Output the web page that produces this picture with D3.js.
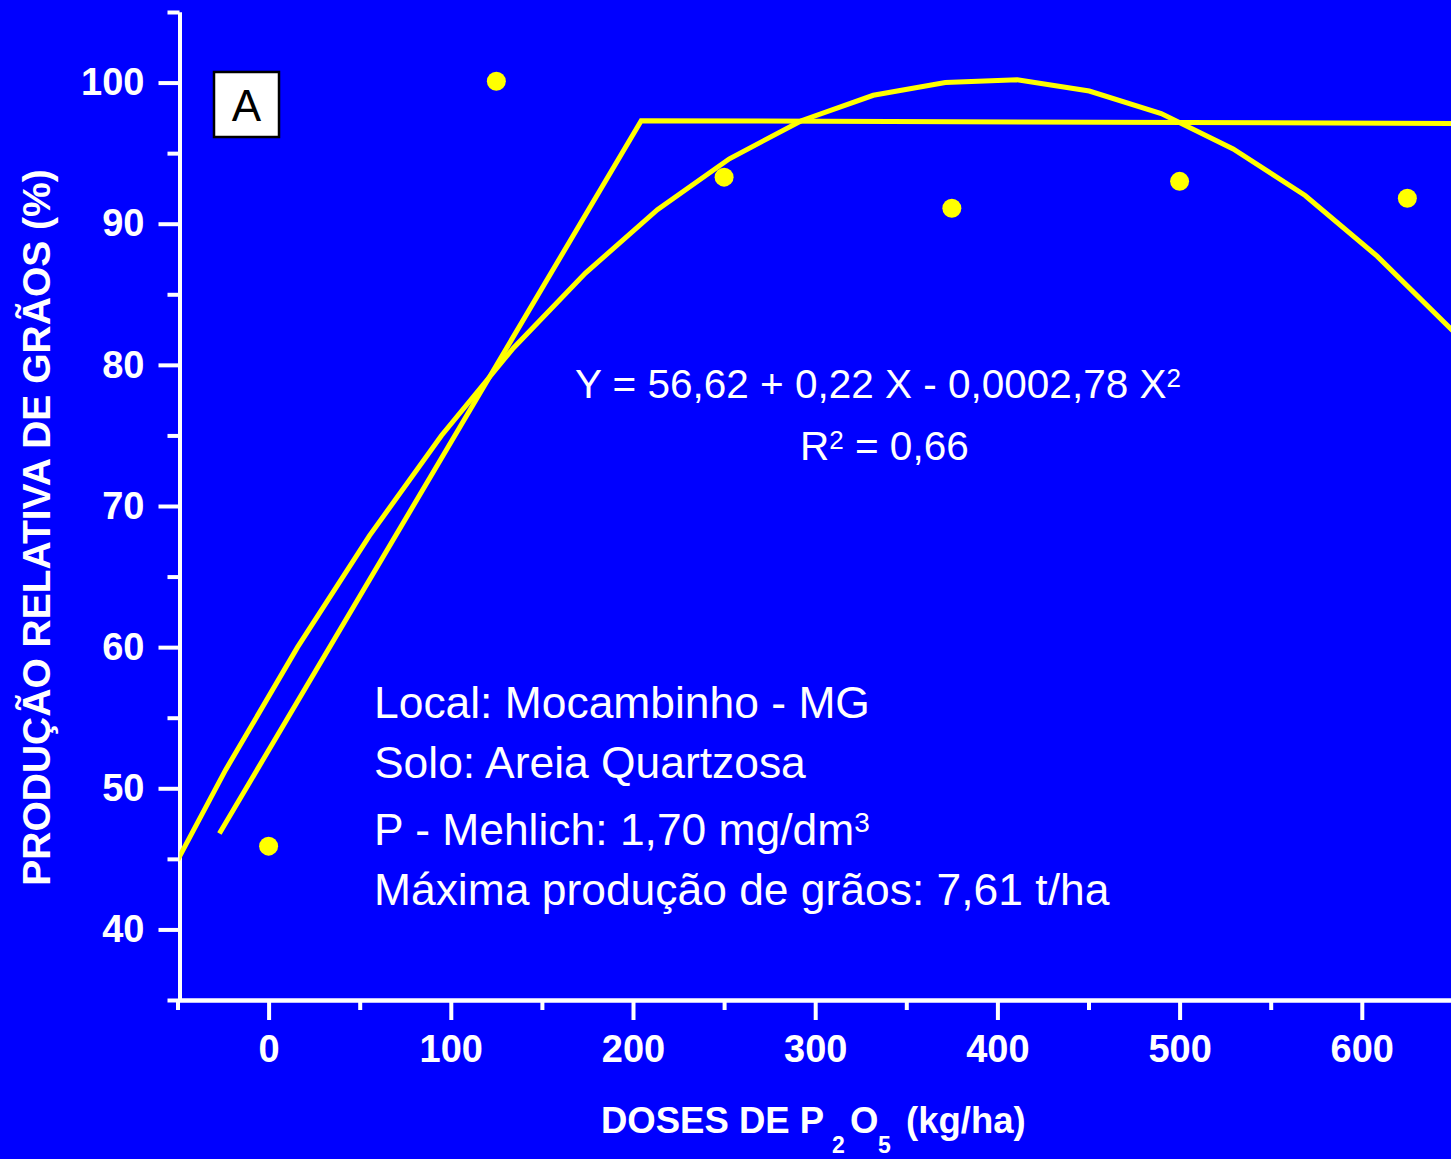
<!DOCTYPE html>
<html>
<head>
<meta charset="utf-8">
<script src="https://cdn.jsdelivr.net/npm/d3@7"></script>
<style>
  html, body { margin: 0; padding: 0; background: #0000FF; overflow: hidden; }
  svg { display: block; }
  text { font-family: "Liberation Sans", Arial, Helvetica, sans-serif; }
</style>
</head>
<body>
<svg id="chart" width="1451" height="1159"></svg>
<script>
// ---- Data ----
const doses = [0, 125, 250, 375, 500, 625];
const producao = [45.9, 100.1, 93.3, 91.1, 93.0, 91.8];

// Quadratic fitted curve, vertices as drawn
const quadX = [-50, -23.6, 15.9, 55.4, 94.9, 134.4, 173.9, 213.4, 252.9, 292.4, 331.9, 371.4, 410.9, 450.4, 489.9, 529.4, 568.9, 608.4, 650];
const quadY = [44.9, 51.3, 60.0, 67.9, 75.0, 81.2, 86.5, 91.0, 94.6, 97.3, 99.1, 100.0, 100.2, 99.4, 97.8, 95.3, 92.0, 87.7, 82.4];

// Linear-plateau fitted line
const lpX = [-27, 204.5, 650];
const lpY = [46.8, 97.3, 97.1];

// Ticks
const xMajorTicks = [0, 100, 200, 300, 400, 500, 600];
const xMinorTicks = [-50, 50, 150, 250, 350, 450, 550, 650];
const yMajorTicks = [40, 50, 60, 70, 80, 90, 100];
const yMinorTicks = [35, 45, 55, 65, 75, 85, 95, 105];

const yAxisTitle = "PRODUÇÃO RELATIVA DE GRÃOS (%)";
const panelLabel = "A";
const infoLines = ["Local: Mocambinho - MG", "Solo: Areia Quartzosa", "P - Mehlich: 1,70 mg/dm", "Máxima produção de grãos: 7,61 t/ha"];

// ---- Drawing ----
const W = 1451, H = 1159;
const BLUE = "#0000FF", YELLOW = "#FFFF00", WHITE = "#FFFFFF";
const svg = d3.select("#chart");
svg.append("rect").attr("width", W).attr("height", H).attr("fill", BLUE);

const x = d3.scaleLinear().domain([-50, 650]).range([177.5, 1452.9]);
const y = d3.scaleLinear().domain([35, 105]).range([1000, 12]);

const axisX0 = 179.5; // vertical axis position

svg.append("defs").append("clipPath").attr("id", "plotclip")
  .append("rect").attr("x", axisX0).attr("y", 0).attr("width", W - axisX0).attr("height", 1000);

// Axes
function styleAxis(g) {
  g.selectAll("path.domain").attr("stroke", WHITE).attr("stroke-width", 4);
  g.selectAll(".tick line").attr("stroke", WHITE).attr("stroke-width", 4);
  g.selectAll(".tick text").attr("fill", WHITE)
    .attr("font-family", "'Liberation Sans', Arial, sans-serif")
    .attr("font-weight", "bold").attr("font-size", 38);
}

// x minor
svg.append("g").attr("transform", "translate(0,1000)")
  .call(d3.axisBottom(x).tickValues(xMinorTicks).tickSize(10).tickSizeOuter(0).tickFormat(""))
  .call(styleAxis);
// x major
svg.append("g").attr("transform", "translate(0,1000)")
  .call(d3.axisBottom(x).tickValues(xMajorTicks).tickSize(20).tickSizeOuter(0).tickPadding(15).tickFormat(d3.format("d")))
  .call(styleAxis);

// y minor
svg.append("g").attr("transform", `translate(${axisX0},0)`)
  .call(d3.axisLeft(y).tickValues(yMinorTicks).tickSize(12).tickSizeOuter(0).tickFormat(""))
  .call(styleAxis);
// y major
svg.append("g").attr("transform", `translate(${axisX0},0)`)
  .call(d3.axisLeft(y).tickValues(yMajorTicks).tickSize(21).tickSizeOuter(0).tickPadding(14).tickFormat(d3.format("d")))
  .call(styleAxis);

// Axis titles
svg.append("text")
  .attr("transform", "translate(50,527.5) rotate(-90)")
  .attr("text-anchor", "middle")
  .attr("fill", WHITE).attr("font-weight", "bold").attr("font-size", 39)
  .text(yAxisTitle);

const xt = svg.append("g").attr("fill", WHITE).attr("font-weight", "bold");
xt.append("text").attr("x", 601).attr("y", 1133).attr("font-size", 36.5).text("DOSES DE P");
xt.append("text").attr("x", 832).attr("y", 1153).attr("font-size", 23).text("2");
xt.append("text").attr("x", 850).attr("y", 1133).attr("font-size", 36.5).text("O");
xt.append("text").attr("x", 878).attr("y", 1153).attr("font-size", 23).text("5");
xt.append("text").attr("x", 906).attr("y", 1133).attr("font-size", 36.5).text("(kg/ha)");

// Curves
const line = d3.line().x(d => x(d[0])).y(d => y(d[1]));
const plot = svg.append("g").attr("clip-path", "url(#plotclip)");

plot.append("path")
  .datum(quadX.map((v, i) => [v, quadY[i]]))
  .attr("d", line).attr("fill", "none").attr("stroke", YELLOW)
  .attr("stroke-width", 5).attr("stroke-linejoin", "miter");

plot.append("path")
  .datum(lpX.map((v, i) => [v, lpY[i]]))
  .attr("d", line).attr("fill", "none").attr("stroke", YELLOW)
  .attr("stroke-width", 5).attr("stroke-linejoin", "miter");

// Points
plot.selectAll("circle.pt")
  .data(doses.map((d, i) => [d, producao[i]]))
  .join("circle").attr("class", "pt")
  .attr("cx", d => x(d[0])).attr("cy", d => y(d[1]))
  .attr("r", 9.5).attr("fill", YELLOW);

// Panel label box
svg.append("rect").attr("x", 214).attr("y", 72).attr("width", 65).attr("height", 65)
  .attr("fill", WHITE).attr("stroke", "#000").attr("stroke-width", 2.5);
svg.append("text").attr("x", 246.5).attr("y", 121).attr("text-anchor", "middle")
  .attr("font-size", 44).attr("fill", "#000").text(panelLabel);

// Equation
const eq = svg.append("text").attr("x", 575).attr("y", 398)
  .attr("fill", WHITE).attr("font-size", 40.5);
eq.append("tspan").text("Y = 56,62 + 0,22 X - 0,0002,78 X");
eq.append("tspan").attr("font-size", 26).attr("dy", -11).text("2");

const r2 = svg.append("text").attr("x", 800).attr("y", 460)
  .attr("fill", WHITE).attr("font-size", 40.5);
r2.append("tspan").text("R");
r2.append("tspan").attr("font-size", 26).attr("dy", -11).text("2");
r2.append("tspan").attr("dy", 11).text(" = 0,66");

// Info block
const baselines = [718, 778, 845, 905];
infoLines.forEach((t, i) => {
  const tx = svg.append("text").attr("x", 374).attr("y", baselines[i])
    .attr("fill", WHITE).attr("font-size", 44.4);
  tx.append("tspan").text(t);
  if (i === 2) tx.append("tspan").attr("font-size", 28).attr("dy", -13).text("3");
});
</script>
</body>
</html>
